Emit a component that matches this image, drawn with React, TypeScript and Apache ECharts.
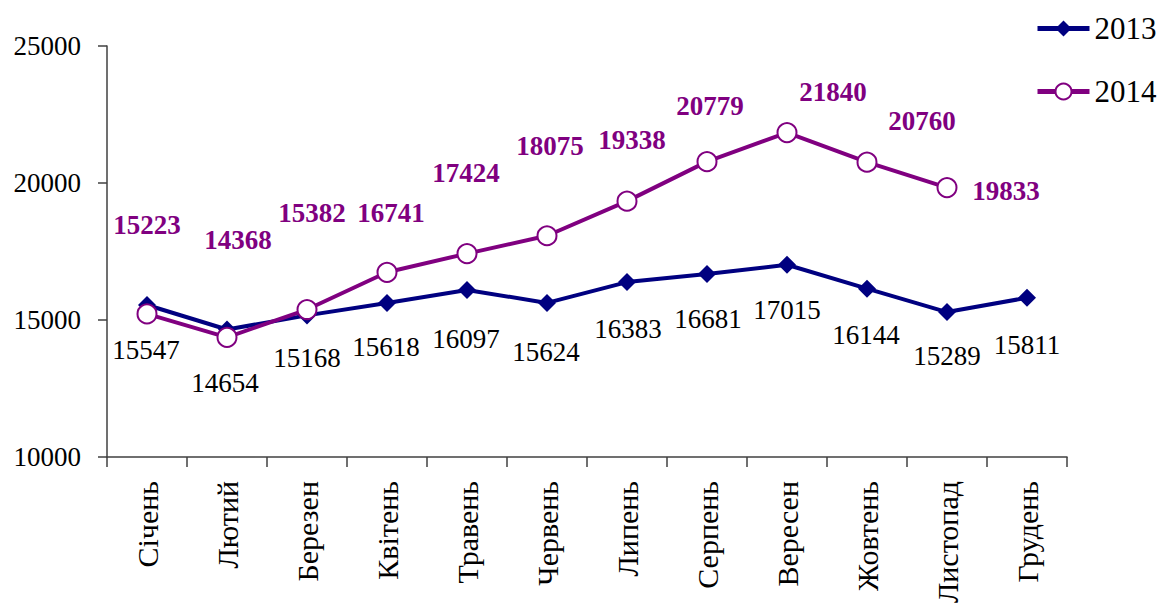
import React, { useEffect, useRef } from "react";
import * as echarts from "echarts";

const months = ["Січень", "Лютий", "Березен", "Квітень", "Травень", "Червень", "Липень", "Серпень", "Вересен", "Жовтень", "Листопад", "Грудень"];
const values2013 = [15547, 14654, 15168, 15618, 16097, 15624, 16383, 16681, 17015, 16144, 15289, 15811];
const values2014 = [15223, 14368, 15382, 16741, 17424, 18075, 19338, 20779, 21840, 20760, 19833, null];
const yTicks = { min: 10000, max: 25000, interval: 5000 };

// label offsets (style only): [dx, dy] from point centre to label centre
const offsets2013 = [[-1, 45], [-2, 54], [0, 43], [-1, 44], [-1, 49], [-1, 49], [1, 47], [1, 45], [0, 45], [-1, 46], [0, 44], [0, 47]];
const offsets2014 = [[0, -89], [11, -97], [5, -97], [4, -59], [-1, -81], [3, -90], [5, -61], [3, -56], [46, -41], [55, -41], [59, 3], [0, 0]];

const FONT = "'Liberation Serif', 'Times New Roman', serif";

export default function App() {
  const ref = useRef<HTMLDivElement>(null);
  useEffect(() => {
    if (!ref.current) return;
    const chart = echarts.init(ref.current, undefined, { renderer: "svg" });
    const axisColor = "#404040";
    chart.setOption({
      animation: false,
      textStyle: { fontFamily: FONT },
      grid: { left: 107, right: 103, top: 46, bottom: 159, containLabel: false },
      legend: {
        orient: "vertical",
        left: 1030,
        top: 8,
        itemWidth: 52,
        itemHeight: 20,
        itemGap: 32,
        textStyle: { fontFamily: FONT, fontSize: 31, color: "#000" },
        data: [
          { name: "2013", lineStyle: { width: 5, color: "#000080" } },
          { name: "2014", lineStyle: { width: 5, color: "#800080" } },
        ],
      },
      xAxis: {
        type: "category",
        data: months,
        boundaryGap: true,
        axisLine: { lineStyle: { color: axisColor, width: 1.5 } },
        axisTick: { show: true, length: 10, lineStyle: { color: axisColor, width: 1.5 } },
        axisLabel: { rotate: 90, margin: 24, fontFamily: FONT, fontSize: 30, color: "#000", interval: 0 },
      },
      yAxis: {
        type: "value",
        min: yTicks.min,
        max: yTicks.max,
        interval: yTicks.interval,
        splitLine: { show: false },
        axisLine: { show: true, lineStyle: { color: axisColor, width: 1.5 } },
        axisTick: { show: true, length: 9, lineStyle: { color: axisColor, width: 1.5 } },
        axisLabel: { margin: 26, fontFamily: FONT, fontSize: 27, color: "#000", formatter: (v: number) => String(v) },
      },
      series: [
        {
          name: "2013",
          type: "line",
          data: values2013.map((v, i) => ({
            value: v,
            label: { offset: offsets2013[i] },
          })),
          symbol: "diamond",
          symbolSize: 18,
          lineStyle: { color: "#000080", width: 4 },
          itemStyle: { color: "#000080" },
          label: {
            show: true,
            position: "inside",
            fontFamily: FONT,
            fontSize: 27,
            color: "#000",
          },
          z: 2,
        },
        {
          name: "2014",
          type: "line",
          data: values2014.map((v, i) => ({
            value: v,
            label: { offset: offsets2014[i] },
          })),
          symbol: "circle",
          symbolSize: 19,
          lineStyle: { color: "#800080", width: 4 },
          itemStyle: { color: "#fff", borderColor: "#800080", borderWidth: 2 },
          label: {
            show: true,
            position: "inside",
            fontFamily: FONT,
            fontSize: 27,
            fontWeight: "bold",
            color: "#800080",
          },
          z: 3,
        },
      ],
    });
    return () => chart.dispose();
  }, []);
  return <div ref={ref} style={{ position: "fixed", left: 0, top: 0, width: 1170, height: 616, background: "#fff" }} />;
}
